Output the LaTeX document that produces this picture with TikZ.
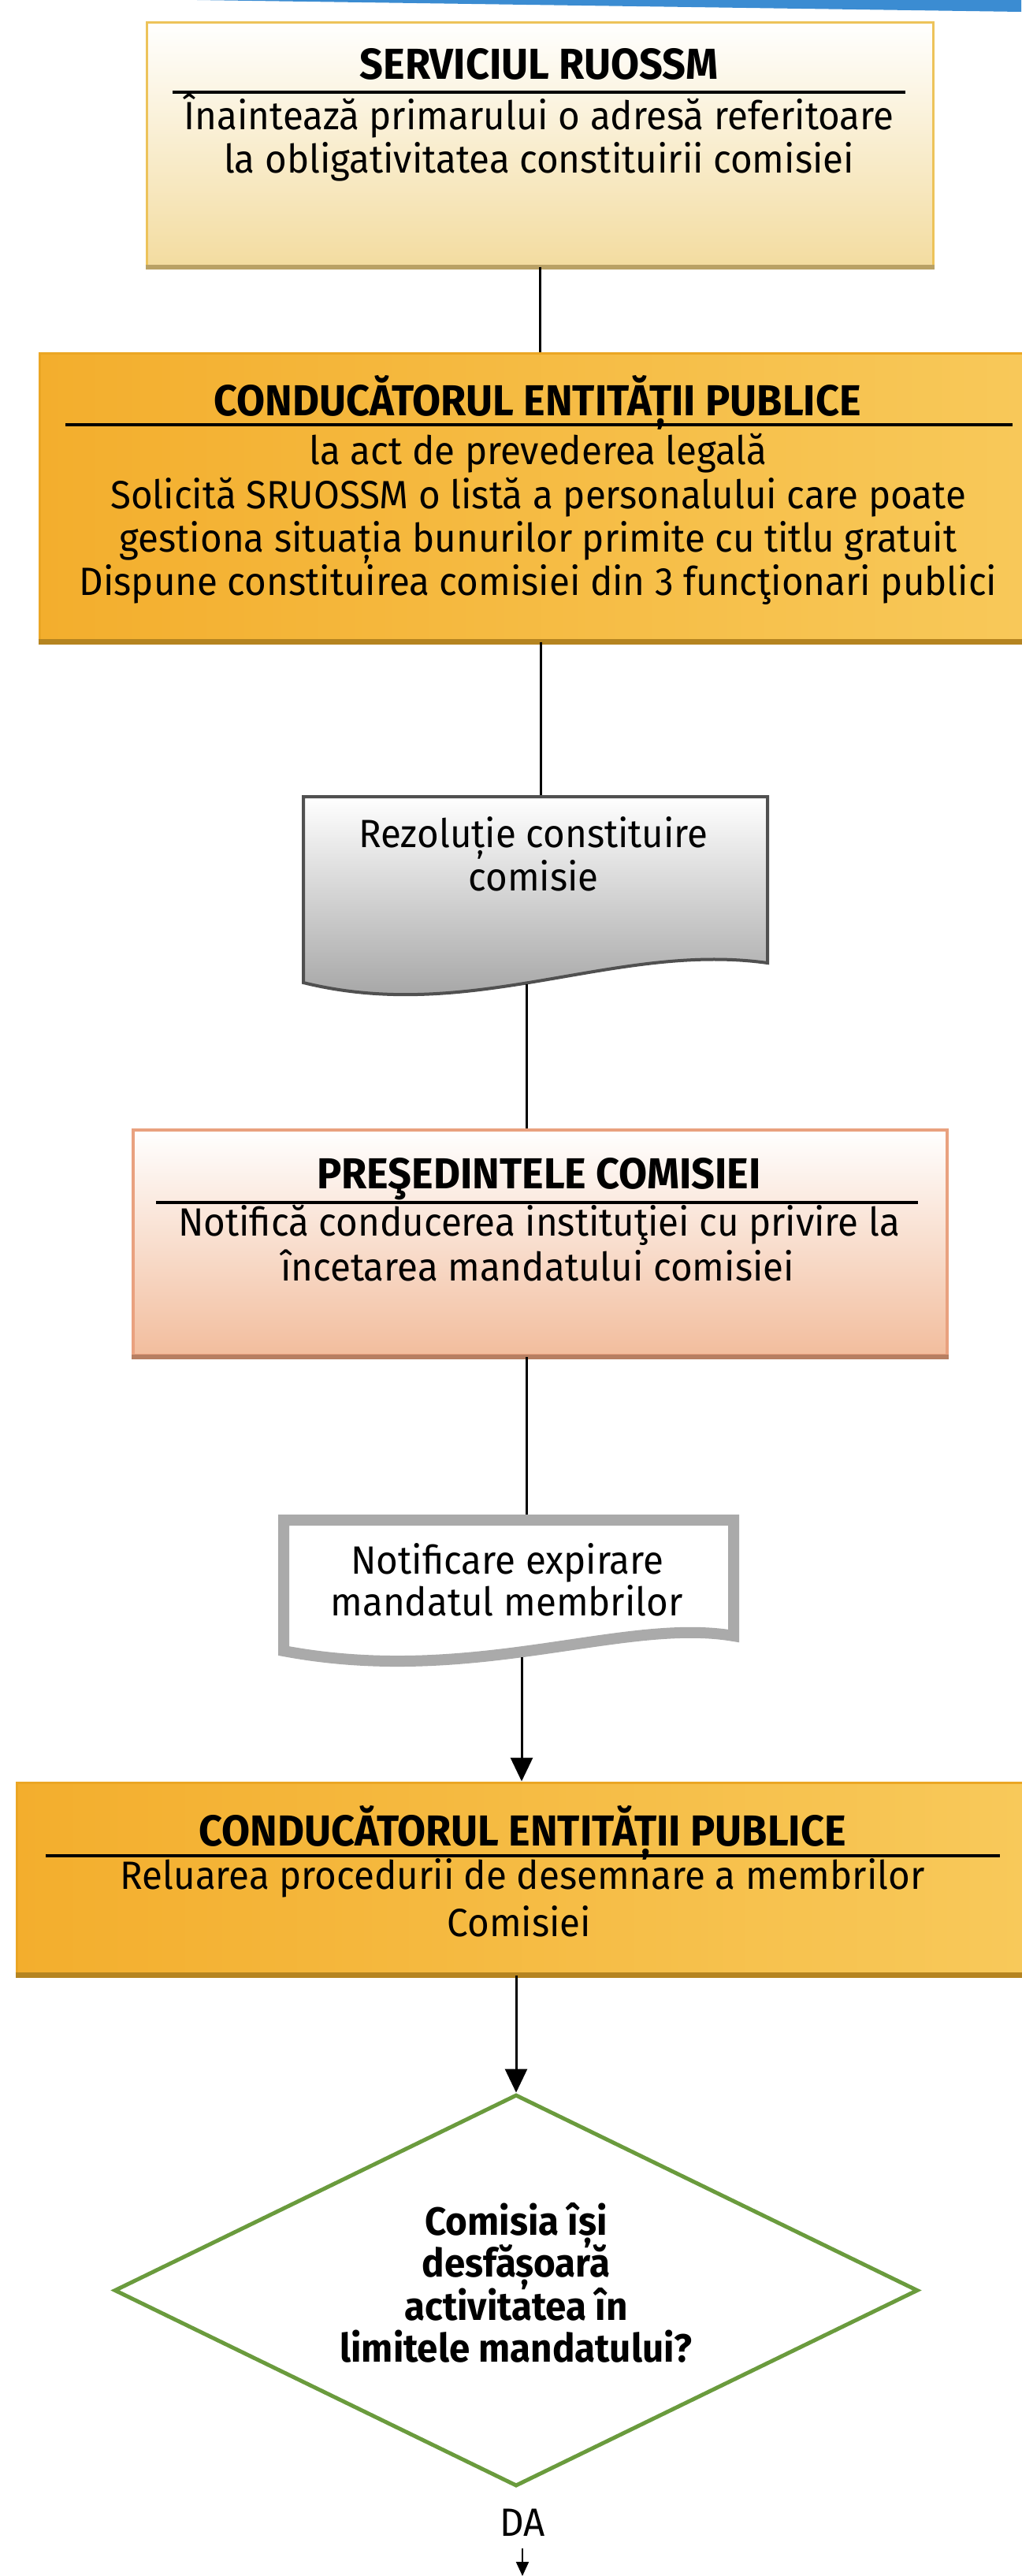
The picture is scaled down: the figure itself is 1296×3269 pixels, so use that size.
\documentclass[tikz,border=0pt]{standalone}
\usepackage{fontspec}
\setmainfont{Fira Sans}[FakeStretch=0.95]
\usetikzlibrary{shapes.geometric,arrows.meta}
\definecolor{bluebar}{HTML}{3B8CD2}
\definecolor{bOneBorder}{HTML}{EDC35A}
\definecolor{bOneFill}{HTML}{F3DCA0}
\definecolor{bOneShadow}{HTML}{B9A165}
\definecolor{goldL}{HTML}{F3AE2D}
\definecolor{goldR}{HTML}{F8C95A}
\definecolor{goldBorder}{HTML}{EBA624}
\definecolor{goldShadow}{HTML}{B58420}
\definecolor{peachBorder}{HTML}{E9A17F}
\definecolor{peachFill}{HTML}{F2BD9D}
\definecolor{peachShadow}{HTML}{B77F62}
\definecolor{docBorder}{HTML}{505050}
\definecolor{docFill}{HTML}{9A9A9A}
\definecolor{docTwoBorder}{HTML}{AAAAAA}
\definecolor{diaGreen}{HTML}{6A9B3D}
\begin{document}
\begin{tikzpicture}[x=1pt,y=-1pt,
  conn/.style={line width=3pt, draw=black},
  arr/.style={conn, -{Triangle[length=30pt,width=28pt]}},
  arrsmall/.style={line width=2pt, draw=black, -{Triangle[length=18pt,width=16pt]}},
  ttl/.style={anchor=base, inner sep=0pt, font=\fontsize{55}{60}\selectfont\bfseries},
  txt/.style={anchor=base, inner sep=0pt, font=\fontsize{50}{55}\selectfont},
  qtxt/.style={anchor=base, inner sep=0pt, font=\fontsize{50}{54}\selectfont\bfseries},
  rulel/.style={line width=4pt, draw=black},
  lightbox/.style={draw=bOneBorder, line width=3pt, top color=white, bottom color=bOneFill, inner sep=0pt},
  goldbox/.style={draw=goldBorder, line width=3pt, left color=goldL, right color=goldR, inner sep=0pt},
  peachbox/.style={draw=peachBorder, line width=4pt, top color=white, bottom color=peachFill, inner sep=0pt},
]
\useasboundingbox (0,0) rectangle (1296,3269);
\fill[white] (0,0) rectangle (1296,3269);

% top blue bar
\fill[bluebar] (250,0) -- (1296,0) -- (1296,15) -- cycle;

% ---------- Box 1
\node[lightbox, minimum width=998pt, minimum height=309pt] (b1) at (685,182.5) {};
\draw[line width=6pt, bOneShadow] (b1.south west) -- (b1.south east);
\node[ttl] (t1a) at (684,100) {SERVICIUL RUOSSM};
\draw[rulel] (219,117) -- (1149,117);
\node[txt] (t1b) at (684,164) {Înaintează primarului o adresă referitoare};
\node[txt] (t1c) at (684,219) {la obligativitatea constituirii comisiei};

% ---------- Box 2
\node[goldbox, minimum width=1272pt, minimum height=365pt] (b2) at (686,630.5) {};
\draw[line width=7pt, goldShadow] (b2.south west) -- (b2.south east);
\node[ttl] (t2a) at (682,527) {CONDUCĂTORUL ENTITĂȚII PUBLICE};
\draw[rulel] (83,539) -- (1285,539);
\node[txt] (t2b) at (683,589) {la act de prevederea legală};
\node[txt] (t2c) at (683,645) {Solicită SRUOSSM o listă a personalului care poate};
\node[txt] (t2d) at (683,700) {gestiona situația bunurilor primite cu titlu gratuit};
\node[txt] (t2e) at (683,755) {Dispune constituirea comisiei din 3 funcţionari publici};

% ---------- Document 1
\draw[line width=4pt, draw=docBorder, top color=white, bottom color=docFill]
  (385,1011) -- (974,1011) -- (974,1222)
  .. controls (780,1195) and (600,1300) .. (385,1247) -- cycle;
\coordinate (d1top) at (686,1009);
\coordinate (d1bot) at (668,1249);
\node[txt] (d1a) at (677,1075) {Rezoluție constituire};
\node[txt] (d1b) at (677,1130) {comisie};

% ---------- Box 3
\node[peachbox, minimum width=1033pt, minimum height=286pt] (b3) at (685.5,1577) {};
\draw[line width=6pt, peachShadow] (b3.south west) -- (b3.south east);
\node[ttl] (t3a) at (684,1508) {PREŞEDINTELE COMISIEI};
\draw[rulel] (198,1526) -- (1165,1526);
\node[txt] (t3b) at (684,1568) {Notifică conducerea instituţiei cu privire la};
\node[txt] (t3c) at (682,1625) {încetarea mandatului comisiei};

% ---------- Document 2
\draw[line width=14pt, draw=docTwoBorder, fill=white]
  (360,1929) -- (931,1929) -- (931,2076)
  .. controls (790,2052) and (600,2140) .. (360,2095) -- cycle;
\coordinate (d2top) at (668,1922);
\coordinate (d2bot) at (662,2103);
\node[txt] (d2a) at (644,1997) {Notificare expirare};
\node[txt] (d2b) at (643,2050) {mandatul membrilor};

% ---------- Box 4
\node[goldbox, minimum width=1280pt, minimum height=243pt] (b4) at (661,2383.5) {};
\draw[line width=7pt, goldShadow] (b4.south west) -- (b4.south east);
\node[ttl] (t4a) at (663,2342) {CONDUCĂTORUL ENTITĂȚII PUBLICE};
\draw[rulel] (58,2355) -- (1269,2355);
\node[txt] (t4b) at (663,2397) {Reluarea procedurii de desemnare a membrilor};
\node[txt] (t4c) at (659,2457) {Comisiei};

% ---------- Decision
\node[diamond, draw=diaGreen, line width=5pt, fill=white, inner sep=0pt,
      minimum width=1020pt, minimum height=497pt] (dia) at (655,2906.5) {};
\node[qtxt] (q1) at (655,2836) {Comisia își};
\node[qtxt] (q2) at (655,2889) {desfășoară};
\node[qtxt] (q3) at (655,2944) {activitatea în};
\node[qtxt] (q4) at (655,2997) {limitele mandatului?};

\node[anchor=base, inner xsep=0pt, inner ysep=16pt, font=\fontsize{50}{55}\selectfont] (da) at (663,3218) {DA};
\coordinate (daend) at (663,3269);

% ---------- Connectors
\draw[conn] (b1.south) -- (b1.south |- b2.north);
\draw[conn] (b2.south -| d1top) -- (d1top);
\draw[conn] (d1bot) -- (d1bot |- b3.north);
\draw[conn] (b3.south -| d2top) -- (d2top);
\draw[arr] (d2bot) -- (d2bot |- b4.north);
\draw[arr] (b4.south -| dia.north) -- (dia.north);
\draw[arrsmall] (da.south) -- (daend);
\end{tikzpicture}
\end{document}
